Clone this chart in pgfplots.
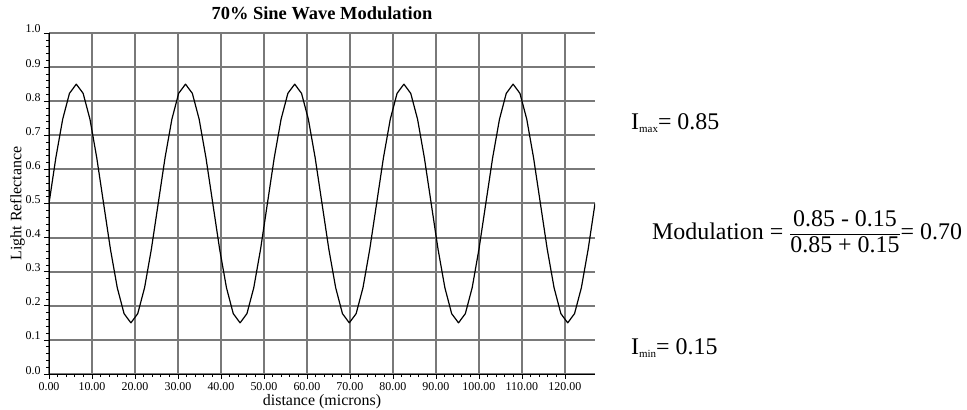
\documentclass[border=0pt]{standalone}
\usepackage{pgfplots}
\pgfplotsset{compat=1.18}
\usepackage{fontspec}
\setmainfont{Liberation Serif}
\begin{document}
\begin{tikzpicture}
\useasboundingbox (0,0) rectangle (967bp,410bp);
\begin{axis}[
  at={(49bp,36bp)}, anchor=south west,
  scale only axis, width=546bp, height=341bp,
  xmin=0, xmax=127, ymin=0, ymax=1,
  axis x line=bottom, axis y line=left,
  xtick={0,10,...,120}, ytick={0,0.1,...,1.0},
  minor x tick num=4, minor y tick num=4,
  tick align=outside,
  major tick length=5bp, minor tick length=3bp,
  every tick/.style={black, line width=0.6bp},
  axis line style={black, line width=0.8bp, -},
  grid=major,
  major grid style={draw=gray!95!black, line width=2bp},
  /pgf/number format/assume math mode=true,
  tick label style={font=\fontsize{12}{12}\selectfont},
  xticklabel style={/pgf/number format/fixed, /pgf/number format/fixed zerofill, /pgf/number format/precision=2},
  yticklabel style={/pgf/number format/fixed, /pgf/number format/fixed zerofill, /pgf/number format/precision=1, anchor=base east},
  title={\textbf{70\% Sine Wave Modulation}},
  title style={font=\fontsize{18.5}{20}\selectfont, at={(axis description cs:0.5,1.0235)}, anchor=base},
  xlabel={distance (microns)},
  xlabel style={font=\fontsize{16}{18}\selectfont, at={(axis description cs:0.5,-0.0821)}, anchor=center},
  ylabel={Light Reflectance},
  ylabel style={font=\fontsize{16}{18}\selectfont, at={(axis description cs:-0.0577,0.5)}, anchor=center},
]
\addplot[black, line width=1.2bp, line join=round] coordinates {
(0.00,0.500) (1.59,0.634) (3.18,0.747) (4.76,0.823) (6.35,0.850) (7.94,0.823) (9.53,0.747) (11.11,0.634)
(12.70,0.500) (14.29,0.366) (15.88,0.253) (17.46,0.177) (19.05,0.150) (20.64,0.177) (22.23,0.253) (23.81,0.366)
(25.40,0.500) (26.99,0.634) (28.58,0.747) (30.16,0.823) (31.75,0.850) (33.34,0.823) (34.93,0.747) (36.51,0.634)
(38.10,0.500) (39.69,0.366) (41.28,0.253) (42.86,0.177) (44.45,0.150) (46.04,0.177) (47.63,0.253) (49.21,0.366)
(50.80,0.500) (52.39,0.634) (53.98,0.747) (55.56,0.823) (57.15,0.850) (58.74,0.823) (60.33,0.747) (61.91,0.634)
(63.50,0.500) (65.09,0.366) (66.68,0.253) (68.26,0.177) (69.85,0.150) (71.44,0.177) (73.03,0.253) (74.61,0.366)
(76.20,0.500) (77.79,0.634) (79.38,0.747) (80.96,0.823) (82.55,0.850) (84.14,0.823) (85.73,0.747) (87.31,0.634)
(88.90,0.500) (90.49,0.366) (92.08,0.253) (93.66,0.177) (95.25,0.150) (96.84,0.177) (98.43,0.253) (100.01,0.366)
(101.60,0.500) (103.19,0.634) (104.78,0.747) (106.36,0.823) (107.95,0.850) (109.54,0.823) (111.13,0.747) (112.71,0.634)
(114.30,0.500) (115.89,0.366) (117.48,0.253) (119.06,0.177) (120.65,0.150) (122.24,0.177) (123.83,0.253) (125.41,0.366)
(127.00,0.500)
};
\end{axis}
\node[anchor=base west, inner sep=0pt, font=\fontsize{24}{26}\selectfont] at (631bp,280bp)
  {I\raisebox{-3bp}{\fontsize{11}{11}\selectfont max}= 0.85};
\node[anchor=base west, inner sep=0pt, font=\fontsize{24}{26}\selectfont] at (631bp,55bp)
  {I\raisebox{-3bp}{\fontsize{11}{11}\selectfont min}= 0.15};
\node[anchor=base west, inner sep=0pt, font=\fontsize{24}{26}\selectfont] at (652bp,170bp)
  {Modulation = $\displaystyle\frac{\mbox{\raisebox{-3bp}{0.85 - 0.15}}}{\mbox{\smash{\raisebox{4.5bp}{0.85 + 0.15}}}}$= 0.70};
\end{tikzpicture}
\end{document}
